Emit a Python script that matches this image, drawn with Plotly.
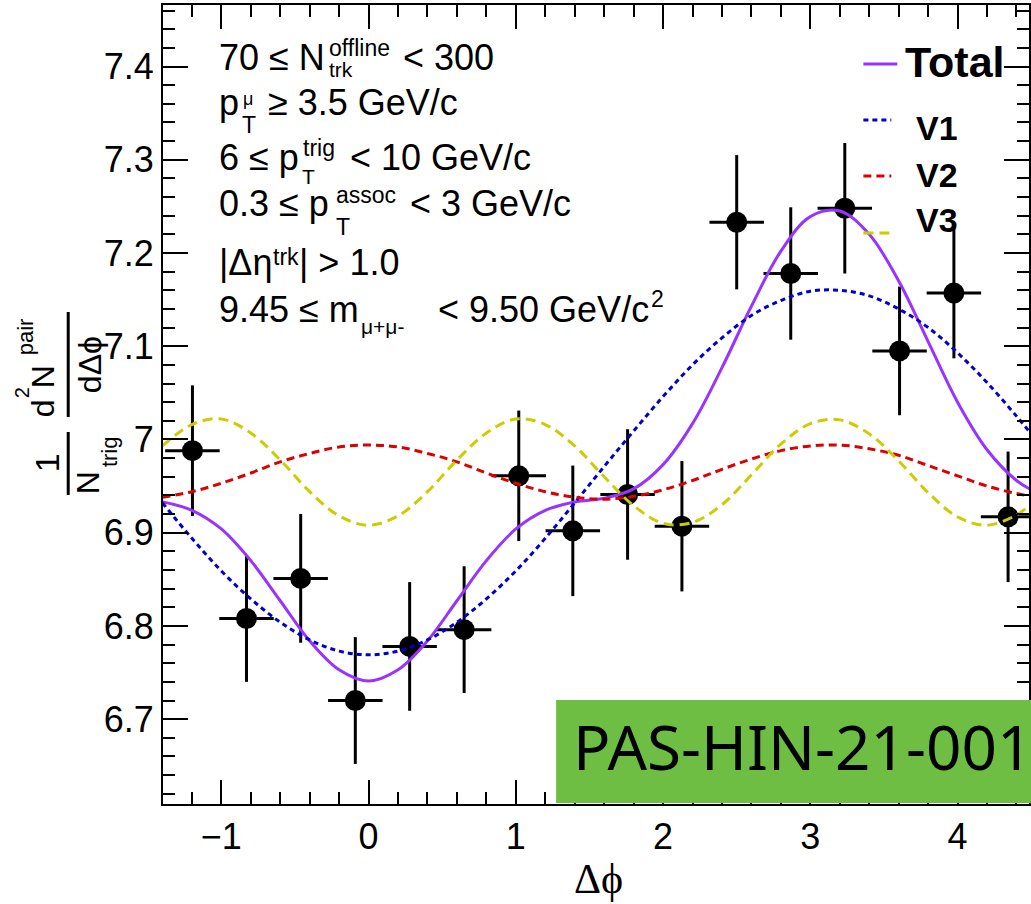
import plotly.graph_objects as go

# ---------------- data ----------------
dphi = [-1.196, -0.829, -0.461, -0.090, 0.279, 0.649, 1.020, 1.387,
        1.759, 2.128, 2.500, 2.867, 3.234, 3.606, 3.975, 4.343]
yield_vals = [6.988, 6.808, 6.851, 6.720, 6.778, 6.796, 6.961, 6.902,
              6.941, 6.907, 7.233, 7.178, 7.248, 7.095, 7.157, 6.917]
yield_err = [0.070, 0.068, 0.069, 0.068, 0.069, 0.068, 0.070, 0.070,
             0.070, 0.070, 0.072, 0.071, 0.070, 0.069, 0.070, 0.070]
dphi_err = [0.185] * 16

curve_x = [-1.4, -1.2, -1.0, -0.8, -0.6, -0.4, -0.2, 0.0, 0.2, 0.4, 0.6, 0.8,
           1.0, 1.2, 1.4, 1.6, 1.8, 2.0, 2.2, 2.4, 2.6, 2.8, 3.0, 3.2, 3.4,
           3.6, 3.8, 4.0, 4.2, 4.4, 4.5]
total_vals = [6.933, 6.924, 6.904, 6.870, 6.827, 6.784, 6.753, 6.741, 6.753,
              6.784, 6.827, 6.870, 6.904, 6.924, 6.933, 6.937, 6.947, 6.973,
              7.017, 7.077, 7.143, 7.202, 7.239, 7.245, 7.220, 7.170, 7.105,
              7.040, 6.989, 6.956, 6.946]
v1_vals = [6.932, 6.894, 6.859, 6.829, 6.804, 6.785, 6.773, 6.769, 6.773,
           6.785, 6.804, 6.829, 6.859, 6.894, 6.932, 6.971, 7.009, 7.046,
           7.080, 7.109, 7.133, 7.149, 7.159, 7.160, 7.154, 7.140, 7.120,
           7.093, 7.061, 7.025, 7.006]
v2_vals = [6.938, 6.944, 6.953, 6.964, 6.976, 6.985, 6.992, 6.994, 6.992,
           6.985, 6.976, 6.964, 6.953, 6.944, 6.938, 6.936, 6.939, 6.946,
           6.956, 6.968, 6.979, 6.988, 6.993, 6.994, 6.990, 6.983, 6.972,
           6.961, 6.950, 6.942, 6.939]
v3_vals = [6.993, 7.016, 7.022, 7.007, 6.978, 6.944, 6.918, 6.908, 6.918,
           6.944, 6.978, 7.007, 7.022, 7.016, 6.993, 6.960, 6.929, 6.910,
           6.911, 6.930, 6.962, 6.995, 7.017, 7.021, 7.006, 6.977, 6.943,
           6.917, 6.908, 6.919, 6.931]

x_range = [-1.396, 4.485]
y_range = [6.609, 7.466]

# ---------------- page geometry helpers ----------------
W, H = 1031, 904
L, R, T, B = 163, 1031, 5, 804


def px(X):
    return (X - L) / (R - L)


def py(Y):
    return (B - Y) / (B - T)


OFF = {"Liberation Sans": 0.3465, "Liberation Serif": 0.3375, "Noto Sans": 0.388}

annots = []


def text(s, X, base, size, family="Liberation Sans", bold=False, anchor="left", color="black"):
    Y = base - OFF[family.split(",")[0]] * size
    if size < 30:
        Y += 3
    if bold:
        s = "<b>" + s + "</b>"
    annots.append(dict(text=s, x=px(X), y=py(Y), xref="paper", yref="paper",
                       xanchor=anchor, yanchor="middle", showarrow=False,
                       font=dict(family=family, size=size, color=color),
                       borderpad=0))


def rtext(s, X, Y, size, family="Liberation Sans"):
    annots.append(dict(text=s, x=px(X), y=py(Y), xref="paper", yref="paper",
                       xanchor="center", yanchor="middle", showarrow=False,
                       textangle=-90, borderpad=0,
                       font=dict(family=family, size=size, color="black")))


shapes = []


def hline(X0, X1, Y, color, dash, width=3):
    shapes.append(dict(type="line", xref="paper", yref="paper",
                       x0=px(X0), x1=px(X1), y0=py(Y), y1=py(Y),
                       line=dict(color=color, width=width, dash=dash)))


def vline(X, Y0, Y1, width=3):
    shapes.append(dict(type="line", xref="paper", yref="paper",
                       x0=px(X), x1=px(X), y0=py(Y0), y1=py(Y1),
                       line=dict(color="black", width=width)))


C_TOT = "#9933ff"
C_V1 = "#0000cc"
C_V2 = "#dd0000"
C_V3 = "#cccc00"

fig = go.Figure()
fig.add_trace(go.Scatter(
    x=dphi, y=yield_vals, mode="markers",
    marker=dict(color="black", size=21),
    error_y=dict(type="data", array=yield_err, color="black", thickness=3, width=0),
    error_x=dict(type="data", array=dphi_err, color="black", thickness=3, width=0),
    showlegend=False))
fig.add_trace(go.Scatter(x=curve_x, y=total_vals, mode="lines", showlegend=False,
                         line=dict(color=C_TOT, width=3, shape="spline")))
fig.add_trace(go.Scatter(x=curve_x, y=v1_vals, mode="lines", showlegend=False,
                         line=dict(color=C_V1, width=3, shape="spline", dash="5px,4px")))
fig.add_trace(go.Scatter(x=curve_x, y=v2_vals, mode="lines", showlegend=False,
                         line=dict(color=C_V2, width=3, shape="spline", dash="8px,5px")))
fig.add_trace(go.Scatter(x=curve_x, y=v3_vals, mode="lines", showlegend=False,
                         line=dict(color=C_V3, width=3, shape="spline", dash="10px,6px")))

# ---------------- legend (drawn by hand, ROOT style) ----------------
hline(865, 899, 64, C_TOT, "solid")
hline(865, 893, 120, C_V1, "5px,4px")
hline(865, 893, 176, C_V2, "8px,5px")
hline(865, 893, 233, C_V3, "10px,6px")
text("Total", 906, 77, 43, bold=True)
text("V1", 917, 140, 34, bold=True)
text("V2", 917, 187, 34, bold=True)
text("V3", 917, 232, 34, bold=True)

# ---------------- selection text ----------------
S, s = 36, 23
text("70 ≤ N", 218, 70, S)
text("offline", 328, 53, s)
text("trk", 328, 74, 21)
text("< 300", 403, 70, S)

text("p", 218, 115, S)
text("μ", 242, 102, 18)
text("T", 241, 130, s)
text("≥ 3.5 GeV/c", 267, 115, S)

text("6 ≤ p", 218, 170, S)
text("trig", 302, 153, s)
text("T", 301, 181, 21)
text("< 10 GeV/c", 349, 170, S)

text("0.3 ≤ p", 218, 216, S)
text("assoc", 335, 200, s)
text("T", 335, 232, s)
text("< 3 GeV/c", 410, 216, S)

text("|Δη", 218, 275, S)
text("trk", 272, 262, s)
text("| > 1.0", 298, 275, S)

text("9.45 ≤ m", 218, 322, S)
text("μ+μ-", 360, 331, 21)
text("< 9.50 GeV/c", 438, 322, S)
text("2", 651, 304, s)

# ---------------- axis titles ----------------
text("Δϕ", 600, 893, 42, family="Liberation Serif, DejaVu Serif", anchor="center")

rtext("1", 47, 463, 34)
vline(68, 432, 495)
rtext("N", 88, 483, 32)
rtext("trig", 110, 452, 22)
rtext("d", 43, 408, 32)
rtext("2", 22, 393, 20)
rtext("N", 43, 377, 32)
rtext("pair", 25, 337, 22)
vline(68, 312, 417)
rtext("dΔϕ", 90, 365, 32, family="Liberation Sans, DejaVu Sans")

# ---------------- PAS box ----------------
shapes.append(dict(type="rect", xref="paper", yref="paper", layer="above",
                   x0=px(557), x1=1.02, y0=py(803), y1=py(700),
                   fillcolor="#6fbe44", line=dict(width=0)))
text("PAS-HIN-21-001", 573, 770, 62, family="Noto Sans")

axis_common = dict(showline=True, linecolor="black", linewidth=2, mirror="ticks",
                   ticks="inside", tickwidth=2, tickcolor="black", showgrid=False,
                   zeroline=False,
                   tickfont=dict(family="Liberation Sans", size=36, color="black"))

fig.update_layout(
    width=W, height=H,
    margin=dict(l=L, r=W - R, t=T, b=H - B, pad=0),
    paper_bgcolor="white", plot_bgcolor="white",
    xaxis=dict(range=x_range, tick0=0, dtick=1, ticklen=24,
               minor=dict(dtick=0.2, tick0=0, ticklen=12, ticks="inside",
                          tickwidth=2, tickcolor="black", showgrid=False),
               ticklabelstandoff=0,
               **axis_common),
    yaxis=dict(range=y_range, tick0=7, dtick=0.1, ticklen=25,
               minor=dict(dtick=0.02, tick0=7, ticklen=12, ticks="inside",
                          tickwidth=2, tickcolor="black", showgrid=False),
               ticklabelstandoff=0,
               **axis_common),
    annotations=annots,
    shapes=shapes,
    showlegend=False,
)

fig.write_html("out.html")
